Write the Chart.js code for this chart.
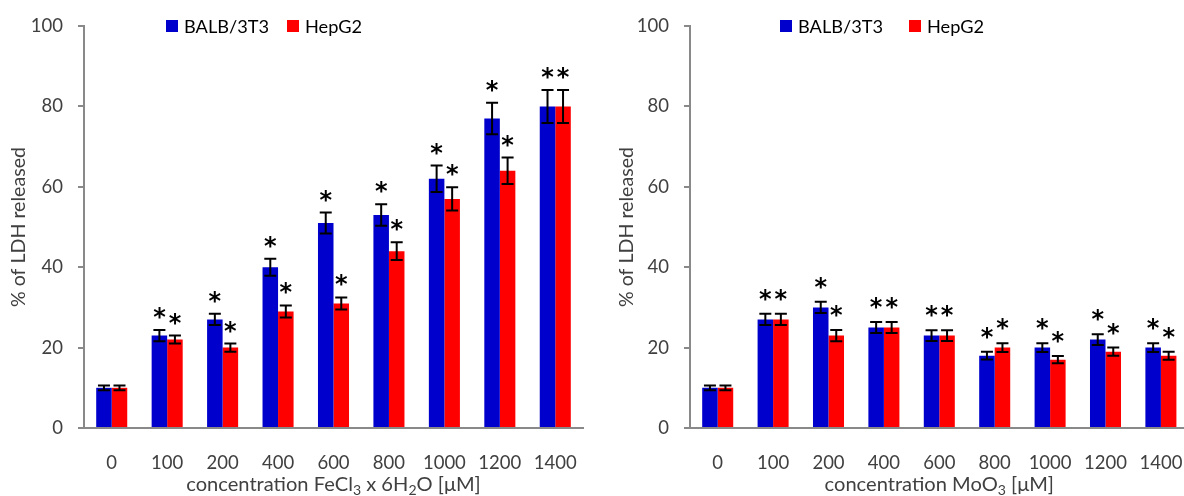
<!DOCTYPE html>
<html lang="en">
<head>
<meta charset="UTF-8">
<title>LDH release - FeCl3 and MoO3</title>
<script src="https://cdn.jsdelivr.net/npm/chart.js"></script>
<style>
  html, body { margin: 0; padding: 0; width: 1184px; height: 496px; overflow: hidden; background: #fff; font-family: Lato, sans-serif; }
  .panel { position: absolute; top: 0; width: 600px; height: 496px; }
  .leg { position: absolute; white-space: nowrap; color: #000; line-height: 1; }
  .sq { position: absolute; width: 12px; height: 12px; top: 20px; }
  .xtitle { position: absolute; color: #404040; white-space: nowrap; line-height: 1; transform: translateX(-50%); }
  .xtitle sub { font-size: 70%; vertical-align: -0.25em; line-height: 0; }
</style>
</head>
<body>
<div class="panel" style="left:0"><canvas id="feChart" width="600" height="496"></canvas></div>
<div class="panel" style="left:600px"><canvas id="moChart" width="600" height="496"></canvas></div>
<div id="legends"></div>
<div class="xtitle" id="feTitle">concentration FeCl<sub>3</sub> x 6H<sub>2</sub>O [μM]</div>
<div class="xtitle" id="moTitle">concentration MoO<sub>3</sub> [μM]</div>

<script>
// categories (concentration, µM)
const concentrations = ['0', '100', '200', '400', '600', '800', '1000', '1200', '1400'];
const seriesNames = ['BALB/3T3', 'HepG2'];
const seriesColors = ['#0000CC', '#FF0000'];
const yTicks = [0, 20, 40, 60, 80, 100];

// FeCl3 x 6H2O
const feBalb     = [10, 23, 27, 40, 51, 53, 62, 77, 80];
const feBalbErr  = [0.6, 1.4, 1.4, 2.1, 2.6, 2.7, 3.3, 3.9, 4.1];
const feBalbSig  = [0, 1, 1, 1, 1, 1, 1, 1, 1];
const feHep      = [10, 22, 20, 29, 31, 44, 57, 64, 80];
const feHepErr   = [0.6, 1.0, 1.0, 1.5, 1.5, 2.2, 2.9, 3.3, 4.1];
const feHepSig   = [0, 1, 1, 1, 1, 1, 1, 1, 1];

// MoO3
const moBalb     = [10, 27, 30, 25, 23, 18, 20, 22, 20];
const moBalbErr  = [0.6, 1.4, 1.4, 1.35, 1.35, 0.95, 1.1, 1.35, 1.1];
const moBalbSig  = [0, 1, 1, 1, 1, 1, 1, 1, 1];
const moHep      = [10, 27, 23, 25, 23, 20, 17, 19, 18];
const moHepErr   = [0.6, 1.4, 1.4, 1.35, 1.35, 1.1, 0.9, 1.0, 1.0];
const moHepSig   = [0, 1, 1, 1, 1, 1, 1, 1, 1];

// pick a font size so a text gets the width it has in the original figure
const measureCtx = document.createElement('canvas').getContext('2d');
function fitSize(text, width, family) {
  measureCtx.font = '100px ' + family;
  return Math.round(1000 * width / measureCtx.measureText(text).width) / 10;
}
const FONT = 'Lato';
const tickSize = fitSize('1400', 43, FONT);
const legendSize = fitSize('BALB/3T3', 85, FONT);
const yTitleSize = fitSize('% of LDH released', 160, FONT);
const xTitleSize = fitSize('concentration MoO3 [μM]', 233, FONT);

// error bars + significance stars
const errorBars = {
  id: 'errorBars',
  afterDatasetsDraw(chart, args, opts) {
    const ctx = chart.ctx;
    const y = chart.scales.y;
    chart.data.datasets.forEach((ds, i) => {
      chart.getDatasetMeta(i).data.forEach((bar, j) => {
        const top = y.getPixelForValue(ds.data[j] + ds.errors[j]);
        const bot = y.getPixelForValue(ds.data[j] - ds.errors[j]);
        ctx.save();
        ctx.strokeStyle = '#000';
        ctx.lineWidth = 2;
        ctx.beginPath();
        ctx.moveTo(bar.x, top); ctx.lineTo(bar.x, bot);
        ctx.moveTo(bar.x - 6, top); ctx.lineTo(bar.x + 6, top);
        ctx.moveTo(bar.x - 6, bot); ctx.lineTo(bar.x + 6, bot);
        ctx.stroke();
        if (ds.stars[j]) {
          ctx.fillStyle = '#000';
          ctx.font = 'bold 24px "DejaVu Sans"';
          ctx.textAlign = 'center';
          ctx.textBaseline = 'alphabetic';
          ctx.fillText('*', bar.x, top - opts.starGap);
        }
        ctx.restore();
      });
    });
  }
};

function makeChart(id, balb, balbErr, balbSig, hep, hepErr, hepSig, yWidth, padRight, titleCenter, starGap) {
  const gray = '#898989';
  return new Chart(document.getElementById(id), {
    type: 'bar',
    data: {
      labels: concentrations,
      datasets: [
        { label: seriesNames[0], data: balb, errors: balbErr, stars: balbSig, backgroundColor: seriesColors[0] },
        { label: seriesNames[1], data: hep, errors: hepErr, stars: hepSig, backgroundColor: seriesColors[1] }
      ]
    },
    options: {
      responsive: false,
      animation: false,
      devicePixelRatio: 1,
      categoryPercentage: 0.56,
      barPercentage: 1,
      layout: { padding: { top: 25, right: padRight, bottom: 20, left: 0 } },
      plugins: { legend: { display: false }, tooltip: { enabled: false }, errorBars: { starGap: starGap } },
      scales: {
        x: {
          grid: { display: false },
          border: { display: true, color: gray, width: 2 },
          ticks: { color: '#404040', font: { family: FONT, size: tickSize }, padding: Math.round(27 - 0.6 * tickSize), maxRotation: 0, autoSkip: false },
          afterFit: s => { s.height = 48; }
        },
        y: {
          min: 0, max: 100,
          afterBuildTicks: s => { s.ticks = yTicks.map(v => ({ value: v })); },
          grid: { drawOnChartArea: false, drawTicks: true, tickLength: 6, color: gray, lineWidth: 2 },
          border: { display: true, color: gray, width: 2 },
          ticks: { color: '#404040', font: { family: FONT, size: tickSize }, padding: 15 },
          title: { display: true, text: '% of LDH released', color: '#404040', font: { family: FONT, size: yTitleSize },
                   padding: { top: titleCenter - 0.6 * yTitleSize, bottom: 0 } },
          afterFit: s => { s.width = yWidth; }
        }
      }
    },
    plugins: [errorBars]
  });
}

const fe = makeChart('feChart', feBalb, feBalbErr, feBalbSig, feHep, feHepErr, feHepSig, 84, 17, 19, 5);
const mo = makeChart('moChart', moBalb, moBalbErr, moBalbSig, moHep, moHepErr, moHepSig, 90, 11.4, 27, 7);

// x-axis titles, centred under each plot area
[[fe, 0, 'feTitle'], [mo, 600, 'moTitle']].forEach(([chart, offset, id]) => {
  const el = document.getElementById(id);
  el.style.fontSize = xTitleSize + 'px';
  el.style.left = (offset + (chart.chartArea.left + chart.chartArea.right) / 2) + 'px';
  el.style.top = (485.5 - 0.634 * xTitleSize) + 'px';
});

// legends (HTML, one per panel)
const legendLefts = [[166, 287], [780, 909]];
const legends = document.getElementById('legends');
legendLefts.forEach(pair => {
  pair.forEach((left, k) => {
    const sq = document.createElement('div');
    sq.className = 'sq';
    sq.style.left = left + 'px';
    sq.style.background = seriesColors[k];
    legends.appendChild(sq);
    const t = document.createElement('div');
    t.className = 'leg';
    t.style.left = (left + 18) + 'px';
    t.style.fontSize = legendSize + 'px';
    t.style.top = (26.3 - 0.53 * legendSize) + 'px';
    t.textContent = seriesNames[k];
    legends.appendChild(t);
  });
});
</script>
</body>
</html>
